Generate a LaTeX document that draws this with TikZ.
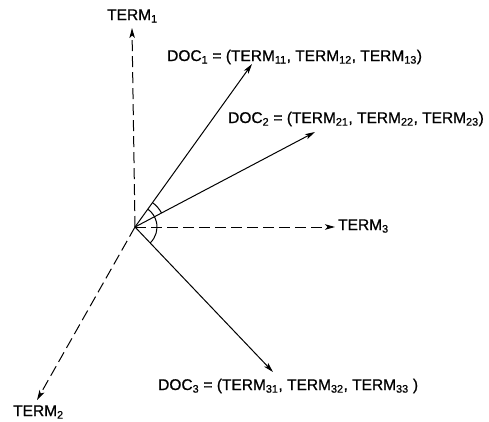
\documentclass[tikz,border=0pt]{standalone}
\usepackage{fontspec}
\setmainfont{Liberation Sans}
\newfontfamily\scanfont[FakeBold=0.8]{Liberation Sans}
\usetikzlibrary{arrows.meta}

\begin{document}
\begin{tikzpicture}[
  x=1pt, y=1pt,
  >={Stealth[length=10pt, width=5.5pt, inset=2.5pt]},
  vec/.style={->, black, line width=1pt},
  axis/.style={->, black, line width=1pt, dash pattern=on 11pt off 5pt},
  lbl/.style={anchor=base west, inner sep=0pt, font=\scanfont\fontsize{15.5}{18}\selectfont},
]

% ══════════════════════════════════════════════════════
% Frame (fixes the page size)
% ══════════════════════════════════════════════════════
\useasboundingbox (-135,-194) rectangle (354,227);

% ══════════════════════════════════════════════════════
% Origin and arrow ends
% ══════════════════════════════════════════════════════
\coordinate (O)  at (0,0);
\coordinate (t1) at (-3,199);    % TERM_1 axis
\coordinate (t2) at (-98,-173);  % TERM_2 axis
\coordinate (t3) at (200,0);     % TERM_3 axis
\coordinate (d1) at (117,163);   % DOC_1
\coordinate (d2) at (180,95);    % DOC_2
\coordinate (d3) at (138,-145);  % DOC_3

% ══════════════════════════════════════════════════════
% Term axes (dashed)
% ══════════════════════════════════════════════════════
\draw[axis] (O) -- (t1);
\draw[axis] (O) -- (t2);
\draw[axis] (O) -- (t3);

% ══════════════════════════════════════════════════════
% Document vectors
% ══════════════════════════════════════════════════════
\draw[vec] (O) -- (d1);
\draw[vec] (O) -- (d2);
\draw[vec] (O) -- (d3);

% ── Angle marks ─────────────────────────────────────
\pgfmathsetmacro{\aone}{54.3}    % direction of DOC_1
\pgfmathsetmacro{\atwo}{27.8}    % direction of DOC_2
\pgfmathsetmacro{\athree}{-46.4} % direction of DOC_3
\draw[line width=1pt] (O) ++(\athree:22)
  arc[start angle=\athree, end angle=\aone, radius=22];
\draw[line width=1pt] (O) ++(\atwo:30)
  arc[start angle=\atwo, end angle=\aone, radius=30];

% ══════════════════════════════════════════════════════
% Labels
% ══════════════════════════════════════════════════════
\node[lbl] (term1) at (-28,207) {TERM\textsubscript{1}};
\node[lbl] (term2) at (-122,-189) {TERM\textsubscript{2}};
\node[lbl] (term3) at (203,-3) {TERM\textsubscript{3}};
\node[lbl] (doc1) at (32,166)
  {DOC\textsubscript{1} = (TERM\textsubscript{11}, TERM\textsubscript{12}, TERM\textsubscript{13})};
\node[lbl] (doc2) at (93,104)
  {DOC\textsubscript{2} = (TERM\textsubscript{21}, TERM\textsubscript{22}, TERM\textsubscript{23})};
\node[lbl] (doc3) at (23,-163)
  {DOC\textsubscript{3} = (TERM\textsubscript{31}, TERM\textsubscript{32}, TERM\textsubscript{33} )};

\end{tikzpicture}
\end{document}
